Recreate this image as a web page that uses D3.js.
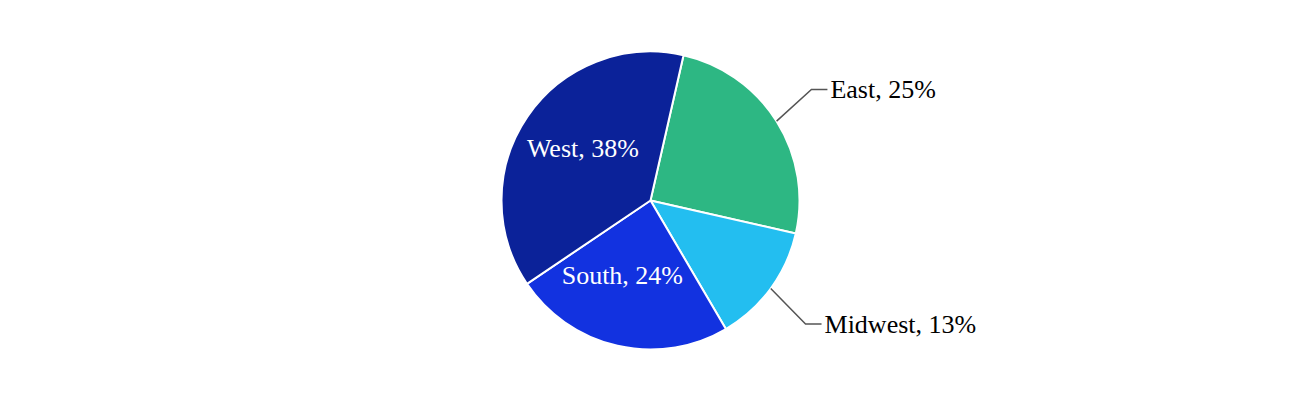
<!DOCTYPE html>
<html>
<head>
<meta charset="utf-8">
<script src="https://cdn.jsdelivr.net/npm/d3@7"></script>
<style>
  body { margin: 0; background: #fff; }
  svg text { font-family: "Liberation Serif", "Times New Roman", serif; font-size: 26px; }
</style>
</head>
<body>
<div id="chart"></div>
<script>
// Region shares (clockwise from the top right)
var regions = ["East", "Midwest", "South", "West"];
var shares = [25, 13, 24, 38];
var sliceColors = ["#2db783", "#23bef0", "#1232e0", "#0b2299"];
// which labels sit outside the pie with a leader line
var outsideLabel = [true, true, false, false];

var width = 1300,
    height = 400;

var cx = 650.5, cy = 200.5, radius = 149;
var startDeg = 12.8;

var svg = d3.select("#chart").append("svg")
    .attr("width", width)
    .attr("height", height);

var g = svg.append("g")
    .attr("transform", "translate(" + cx + "," + cy + ")");

var data = regions.map(function (r, i) {
    return { name: r, value: shares[i], color: sliceColors[i], outside: outsideLabel[i] };
});

var start = startDeg * Math.PI / 180;
var pie = d3.pie()
    .sort(null)
    .value(function (d) { return d.value; })
    .startAngle(start)
    .endAngle(start + 2 * Math.PI);

var arc = d3.arc().innerRadius(0).outerRadius(radius);

var arcs = pie(data);

// the slices
g.selectAll("path.slice")
    .data(arcs)
    .enter().append("path")
    .attr("class", "slice")
    .attr("d", arc)
    .attr("fill", function (d) { return d.data.color; })
    .attr("stroke", "#fff")
    .attr("stroke-width", 2);

function mid(d) { return (d.startAngle + d.endAngle) / 2; }
function polar(a, r) { return [r * Math.sin(a), -r * Math.cos(a)]; }

function labelText(d) { return d.data.name + ", " + d.data.value + "%"; }

// labels inside the slice
g.selectAll("text.inside")
    .data(arcs.filter(function (d) { return !d.data.outside; }))
    .enter().append("text")
    .attr("class", "inside")
    .attr("transform", function (d) {
        var p = polar(mid(d), radius * 0.55);
        // nudge lower-half labels back toward the vertical through the centre
        if (Math.cos(mid(d)) < 0) p[0] -= 10;
        return "translate(" + p + ")";
    })
    .attr("text-anchor", "middle")
    .attr("dy", "0.12em")
    .attr("fill", "#fff")
    .text(labelText);

// outside labels with leader lines: short diagonal, then a horizontal tick
var outs = arcs.filter(function (d) { return d.data.outside; });

function elbow(d) {
    var p0 = polar(mid(d), radius + 1);
    var up = Math.cos(mid(d)) > 0;
    return [p0[0] + 34, p0[1] + (up ? -31 : 35)];
}

g.selectAll("polyline.leader")
    .data(outs)
    .enter().append("polyline")
    .attr("class", "leader")
    .attr("fill", "none")
    .attr("stroke", "#555")
    .attr("stroke-width", 1.5)
    .attr("points", function (d) {
        var p0 = polar(mid(d), radius);
        var p1 = elbow(d);
        var p2 = [p1[0] + 16, p1[1]];
        return [p0, p1, p2].map(function (p) { return p.join(","); }).join(" ");
    });

g.selectAll("text.outside")
    .data(outs)
    .enter().append("text")
    .attr("class", "outside")
    .attr("x", function (d) { return elbow(d)[0] + 19; })
    .attr("y", function (d) { return elbow(d)[1]; })
    .attr("dy", "0.33em")
    .attr("fill", "#000")
    .text(labelText);
</script>
</body>
</html>
